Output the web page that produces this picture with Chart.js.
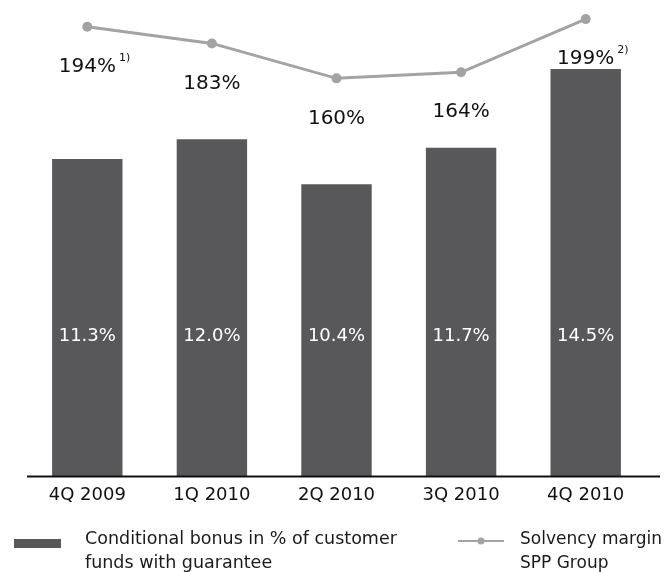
<!DOCTYPE html>
<html lang="en">
  <head>
    <meta charset="UTF-8" />
    <title>Conditional bonus and solvency margin</title>
    <script src="https://cdn.jsdelivr.net/npm/chart.js@4.4.0/dist/chart.umd.min.js"></script>
  </head>
  <style>
   html, body{
    margin: 0;
    padding: 0;
    background: #fff;
   }
   .mainBox{
    position: relative;
    width: 666px;
    height: 572px;
    font-family: "DejaVu Sans", sans-serif;
    color: #1a1a1a;
   }
   .legend{
    position: absolute;
    line-height: 24px;
   }
   .swatch{
    position: absolute;
   }
  </style>
  <body>
    <div class="mainBox">
      <canvas id="myChart" width="666" height="572"></canvas>
      <div class="swatch" style="left:14px;top:539px;width:47px;height:9px;background:#58585a;"></div>
      <div class="legend" style="left:85px;top:526px;font-size:17.5px;">Conditional bonus in % of customer<br>funds with guarantee</div>
      <svg class="swatch" style="left:458px;top:535px;" width="46" height="12">
        <line x1="0" y1="6" x2="46" y2="6" stroke="#a3a3a3" stroke-width="2"/>
        <circle cx="23" cy="6" r="3.5" fill="#a3a3a3"/>
      </svg>
      <div class="legend" style="left:520px;top:526px;font-size:17px;">Solvency margin<br>SPP Group</div>
    </div>
  </body>
  <script>
    // quarters
    var quarters = ['4Q 2009', '1Q 2010', '2Q 2010', '3Q 2010', '4Q 2010'];
    // conditional bonus in % of customer funds with guarantee
    var bonusValues = [11.3, 12.0, 10.4, 11.7, 14.5];
    // solvency margin SPP Group, %
    var solvencyValues = [194, 183, 160, 164, 199];
    var solvencyNotes = ['1)', '', '', '', '2)'];

    var bonusLabelLevel = 5;

    var labelPlugin = {
      id: 'valueLabels',
      afterDatasetsDraw: function(chart){
        var ctx = chart.ctx;
        var area = chart.chartArea;
        var yBar = chart.scales.y;
        ctx.save();
        // axis line
        ctx.strokeStyle = '#111';
        ctx.lineWidth = 2;
        ctx.beginPath();
        ctx.moveTo(area.left + 2, area.bottom);
        ctx.lineTo(chart.width - 6, area.bottom);
        ctx.stroke();

        // bar labels
        ctx.fillStyle = '#fff';
        ctx.font = '18px "DejaVu Sans"';
        ctx.textAlign = 'center';
        ctx.textBaseline = 'middle';
        chart.getDatasetMeta(1).data.forEach(function(bar, i){
          ctx.fillText(bonusValues[i].toFixed(1) + '%', bar.x, yBar.getPixelForValue(bonusLabelLevel));
        });

        // line labels
        ctx.fillStyle = '#111';
        chart.getDatasetMeta(0).data.forEach(function(pt, i){
          var txt = solvencyValues[i] + '%';
          ctx.font = '20px "DejaVu Sans"';
          ctx.textAlign = 'center';
          ctx.fillText(txt, pt.x, pt.y + 40);
          if(solvencyNotes[i]){
            var w = ctx.measureText(txt).width;
            ctx.font = '11px "DejaVu Sans"';
            ctx.textAlign = 'left';
            ctx.fillText(solvencyNotes[i], pt.x + w / 2 + 3, pt.y + 31);
          }
        });
        ctx.restore();
      }
    };

    window.onload = function(){
      var ctx = document.getElementById('myChart');
      new Chart(ctx, {
        type: 'bar',
        data: {
          labels: quarters,
          datasets: [
            {
              type: 'line',
              label: 'Solvency margin SPP Group',
              data: solvencyValues,
              yAxisID: 'y1',
              borderColor: '#a3a3a3',
              backgroundColor: '#a3a3a3',
              borderWidth: 3,
              pointRadius: 5,
              pointBackgroundColor: '#a3a3a3',
              pointBorderWidth: 0,
              tension: 0,
              order: 0
            },
            {
              label: 'Conditional bonus in % of customer funds with guarantee',
              data: bonusValues,
              yAxisID: 'y',
              backgroundColor: '#58585a',
              barPercentage: 1,
              categoryPercentage: 0.565,
              order: 1
            }
          ]
        },
        options: {
          responsive: false,
          animation: false,
          layout: {
            padding: {left: 25, right: 18, top: 10, bottom: 58}
          },
          plugins: {
            legend: {display: false},
            tooltip: {enabled: false}
          },
          scales: {
            x: {
              grid: {display: false, drawTicks: false},
              border: {display: false},
              ticks: {
                color: '#111',
                padding: 8,
                font: {family: 'DejaVu Sans', size: 18}
              }
            },
            y: {
              display: false,
              min: 0,
              max: 16.6
            },
            y1: {
              display: false,
              min: -102,
              max: 205
            }
          }
        },
        plugins: [labelPlugin]
      });
    };
  </script>
</html>
